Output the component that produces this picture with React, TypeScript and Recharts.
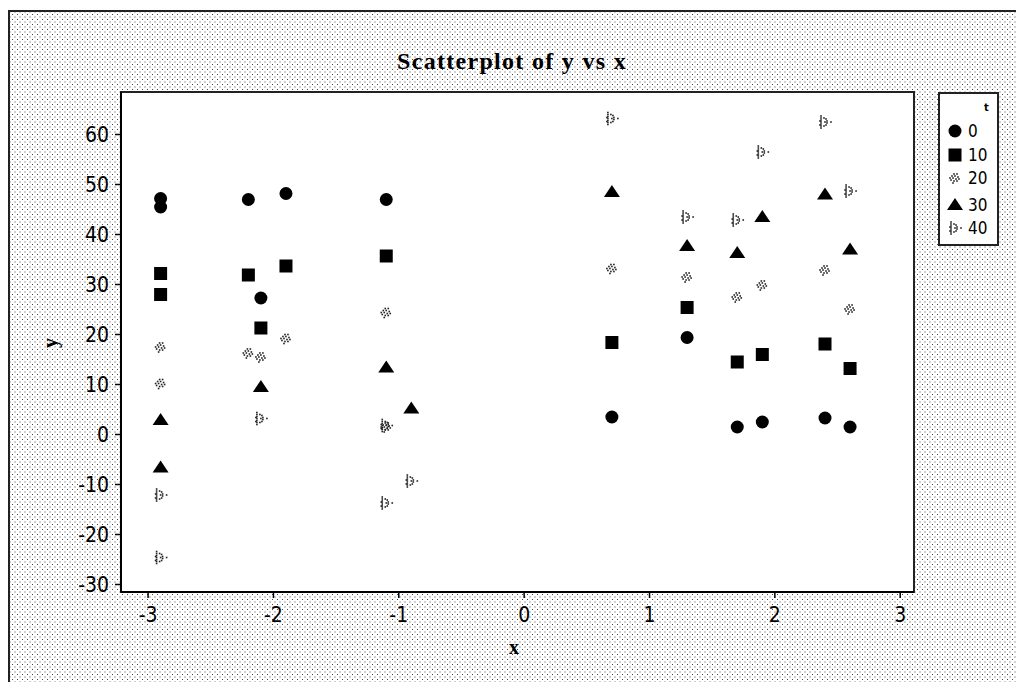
import React from "react";
import { ScatterChart, Scatter, XAxis, YAxis, ReferenceArea } from "recharts";

const groupNames = ["0", "10", "20", "30", "40"];
const xTicks = [-3, -2, -1, 0, 1, 2, 3];
const yTicks = [-30, -20, -10, 0, 10, 20, 30, 40, 50, 60];

const t0 = [
  { x: -2.9, y: 47.2 }, { x: -2.9, y: 45.5 }, { x: -2.2, y: 47.0 }, { x: -2.1, y: 27.3 },
  { x: -1.9, y: 48.2 }, { x: -1.1, y: 47.0 }, { x: 0.7, y: 3.5 }, { x: 1.3, y: 19.4 },
  { x: 1.7, y: 1.5 }, { x: 1.9, y: 2.5 }, { x: 2.4, y: 3.3 }, { x: 2.6, y: 1.5 },
];
const t10 = [
  { x: -2.9, y: 32.2 }, { x: -2.9, y: 28.0 }, { x: -2.2, y: 31.9 }, { x: -2.1, y: 21.3 },
  { x: -1.9, y: 33.7 }, { x: -1.1, y: 35.7 }, { x: 0.7, y: 18.4 }, { x: 1.3, y: 25.4 },
  { x: 1.7, y: 14.5 }, { x: 1.9, y: 16.0 }, { x: 2.4, y: 18.1 }, { x: 2.6, y: 13.2 },
];
const t20 = [
  { x: -2.9, y: 17.5 }, { x: -2.9, y: 10.2 }, { x: -2.2, y: 16.3 }, { x: -2.1, y: 15.5 },
  { x: -1.9, y: 19.2 }, { x: -1.1, y: 24.4 }, { x: -1.1, y: 1.5 }, { x: 0.7, y: 33.2 },
  { x: 1.3, y: 31.5 }, { x: 1.7, y: 27.5 }, { x: 1.9, y: 29.9 }, { x: 2.4, y: 32.9 },
  { x: 2.6, y: 25.1 },
];
const t30 = [
  { x: -2.9, y: 2.9 }, { x: -2.9, y: -6.6 }, { x: -2.1, y: 9.5 }, { x: -1.1, y: 13.4 },
  { x: -0.9, y: 5.2 }, { x: 0.7, y: 48.5 }, { x: 1.3, y: 37.7 }, { x: 1.7, y: 36.3 },
  { x: 1.9, y: 43.5 }, { x: 2.4, y: 48.0 }, { x: 2.6, y: 37.0 },
];
const t40 = [
  { x: -2.9, y: -12.1 }, { x: -2.9, y: -24.6 }, { x: -2.1, y: 3.2 }, { x: -1.1, y: -13.7 },
  { x: -1.1, y: 1.8 }, { x: -0.9, y: -9.3 }, { x: 0.7, y: 63.2 }, { x: 1.3, y: 43.5 },
  { x: 1.7, y: 42.9 }, { x: 1.9, y: 56.5 }, { x: 2.4, y: 62.5 }, { x: 2.6, y: 48.7 },
];

const xDomain: [number, number] = [-3.216, 3.11];
const yDomain: [number, number] = [-31.5, 68.5];

const DOTS20 = [
  [-1, -4], [2, -4], [-3, -2], [0, -2], [3, -1], [-5, 0], [-2, 0], [1, 1], [4, 1],
  [-4, 2], [-1, 3], [2, 3], [-2, 5],
];
const DOTS40 = [
  [-4, -6], [-4, -4], [-4, -2], [-4, 0], [-4, 2], [-4, 4], [-4, 6], [-5, -1], [-5, 3],
  [-1, -4], [1, -3], [2, -1], [0, 0], [2, 1], [1, 3], [-1, 4], [6, 0],
];

function Circle({ cx, cy }: any) {
  return <circle cx={cx} cy={cy} r={6.5} fill="#000" />;
}
function Square({ cx, cy }: any) {
  return <rect x={cx - 6.5} y={cy - 6.5} width={13} height={13} fill="#000" />;
}
function Tri({ cx, cy }: any) {
  return <polygon points={`${cx},${cy - 7} ${cx + 8},${cy + 5} ${cx - 8},${cy + 5}`} fill="#000" />;
}
function Dots({ cx, cy, dots }: any) {
  return (
    <g>
      {dots.map((d: number[], i: number) => (
        <rect key={i} x={cx + d[0] - 0.8} y={cy + d[1] - 0.8} width={1.6} height={1.6} fill="#222" />
      ))}
    </g>
  );
}
function Sym20(p: any) {
  return <Dots cx={p.cx} cy={p.cy} dots={DOTS20} />;
}
function Sym40(p: any) {
  return <Dots cx={p.cx} cy={p.cy} dots={DOTS40} />;
}

const series = [
  { name: groupNames[0], data: t0, shape: Circle },
  { name: groupNames[1], data: t10, shape: Square },
  { name: groupNames[2], data: t20, shape: Sym20 },
  { name: groupNames[3], data: t30, shape: Tri },
  { name: groupNames[4], data: t40, shape: Sym40 },
];

const FONT = "'Liberation Sans Narrow', 'DejaVu Sans Condensed', 'Roboto Condensed', sans-serif";
const tickFont = { fontFamily: FONT, fontSize: 21, fill: "#000" };

export default function App() {
  return (
    <div
      style={{
        position: "fixed",
        left: 0,
        top: 0,
        width: 1016,
        height: 682,
        background: "#fff",
        overflow: "hidden",
      }}
    >
      <div
        style={{
          position: "absolute",
          left: 8,
          top: 10,
          width: 1008,
          height: 672,
          borderLeft: "2px solid #222",
          borderTop: "2px solid #222",
          backgroundColor: "#fff",
          backgroundImage:
            "radial-gradient(circle, #444 0.55px, transparent 0.85px), radial-gradient(circle, #444 0.55px, transparent 0.85px)",
          backgroundSize: "5px 5px, 5px 5px",
          backgroundPosition: "0 0, 2.5px 2.5px",
        }}
      />
      <div style={{ position: "absolute", left: 0, top: 0 }}>
        <ScatterChart width={1016} height={682} margin={{ top: 92, right: 102, left: 61, bottom: 30 }}>
          <ReferenceArea
            x1={xDomain[0]}
            x2={xDomain[1]}
            y1={yDomain[0]}
            y2={yDomain[1]}
            fill="#fff"
            fillOpacity={1}
            stroke="#222"
            strokeWidth={2}
          />
          <XAxis
            type="number"
            dataKey="x"
            domain={xDomain}
            ticks={xTicks}
            allowDataOverflow
            height={60}
            tick={tickFont}
            tickSize={6}
            tickMargin={9}
            axisLine={{ stroke: "#000", strokeWidth: 2 }}
            tickLine={{ stroke: "#000", strokeWidth: 1.5 }}
          />
          <YAxis
            type="number"
            dataKey="y"
            domain={yDomain}
            ticks={yTicks}
            allowDataOverflow
            width={60}
            tick={tickFont}
            tickSize={6}
            tickMargin={6}
            axisLine={{ stroke: "#000", strokeWidth: 2 }}
            tickLine={{ stroke: "#000", strokeWidth: 1.5 }}
          />
          {series.map((s) => (
            <Scatter key={s.name} name={s.name} data={s.data} shape={s.shape} isAnimationActive={false} />
          ))}
        </ScatterChart>
      </div>
      <div
        style={{
          position: "absolute",
          left: 0,
          width: 1024,
          top: 46,
          textAlign: "center",
          fontFamily: "'Liberation Serif', 'DejaVu Serif', serif",
          fontWeight: "bold",
          fontSize: 24,
          letterSpacing: "1.3px",
          lineHeight: "30px",
          color: "#000",
        }}
      >
        Scatterplot of y vs x
      </div>
      <div
        style={{
          position: "absolute",
          left: 504,
          top: 636,
          width: 20,
          textAlign: "center",
          fontFamily: "'Liberation Serif', serif",
          fontWeight: "bold",
          fontSize: 20,
          color: "#000",
        }}
      >
        x
      </div>
      <div
        style={{
          position: "absolute",
          left: 40,
          top: 332,
          width: 20,
          height: 22,
          textAlign: "center",
          fontFamily: "'Liberation Serif', serif",
          fontWeight: "bold",
          fontSize: 20,
          lineHeight: "22px",
          color: "#000",
          transform: "rotate(-90deg)",
        }}
      >
        y
      </div>
      <div
        style={{
          position: "absolute",
          left: 938,
          top: 92,
          width: 57,
          height: 150,
          border: "2px solid #222",
          background: "#fff",
        }}
      >
        <div
          style={{
            position: "absolute",
            left: 44,
            top: 7,
            fontFamily: "'DejaVu Sans Condensed', sans-serif",
            fontSize: 11,
            fontWeight: "bold",
          }}
        >
          t
        </div>
        {series.map((s, i) => {
          const rowY = [39, 63, 86, 113, 136][i];
          const Shape = s.shape;
          return (
            <React.Fragment key={s.name}>
              <svg
                width={20}
                height={20}
                style={{ position: "absolute", left: 5, top: rowY - 10 - 2 }}
              >
                <Shape cx={10} cy={10} />
              </svg>
              <div
                style={{
                  position: "absolute",
                  left: 28,
                  top: rowY - 12,
                  fontFamily: FONT,
                  fontSize: 17,
                  lineHeight: "20px",
                  color: "#000",
                }}
              >
                {s.name}
              </div>
            </React.Fragment>
          );
        })}
      </div>
    </div>
  );
}
